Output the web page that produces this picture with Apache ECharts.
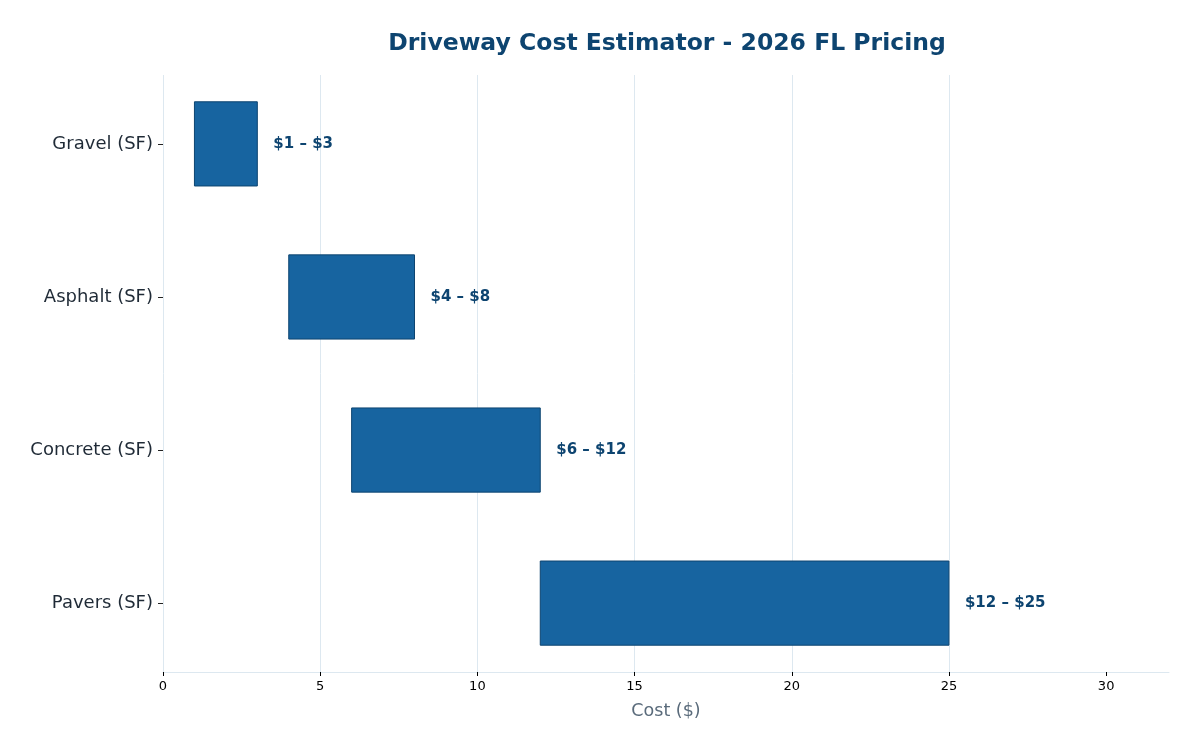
<!DOCTYPE html>
<html>
<head>
<meta charset="utf-8">
<script src="https://cdn.jsdelivr.net/npm/echarts@6/dist/echarts.min.js"></script>
<style>
  html, body { margin: 0; padding: 0; background: #fff; }
  #chart { width: 1200px; height: 750px; }
</style>
</head>
<body>
<div id="chart"></div>
<script>
// 数据
const categories = ['Gravel (SF)', 'Asphalt (SF)', 'Concrete (SF)', 'Pavers (SF)']
const lowCost = [1, 4, 6, 12]
const highCost = [3, 8, 12, 25]
const xTicks = [0, 5, 10, 15, 20, 25, 30]

const barData = categories.map((c, i) => [i, lowCost[i], highCost[i]])

const myChart = echarts.init(document.getElementById('chart'))
const font = 'DejaVu Sans'

const option = {
  backgroundColor: '#fff',
  animation: false,
  title: {
    text: 'Driveway Cost Estimator - 2026 FL Pricing',
    left: 662,
    textAlign: 'center',
    top: 27,
    textStyle: { fontFamily: font, fontSize: 23.5, fontWeight: 'bold', color: '#0d4470' }
  },
  grid: { left: 163, right: 31, top: 75, bottom: 78 },
  xAxis: {
    type: 'value',
    min: 0,
    max: 32,
    interval: 5,
    name: 'Cost ($)',
    nameLocation: 'middle',
    nameGap: 30,
    nameTextStyle: { fontFamily: font, fontSize: 17.5, color: '#5a6b7b' },
    axisLine: { show: true, onZero: false, lineStyle: { color: '#dde8f0' } },
    axisTick: { show: true, length: 4, customValues: xTicks, lineStyle: { color: '#000' } },
    axisLabel: {
      customValues: xTicks,
      fontFamily: font, fontSize: 13, color: '#000', margin: 8
    },
    splitLine: { show: true, showMaxLine: false, lineStyle: { color: '#dde8f0', width: 1 } }
  },
  yAxis: {
    type: 'value',
    inverse: true,
    min: -0.45,
    max: 3.45,
    axisLine: { show: false },
    axisTick: { show: true, customValues: [0, 1, 2, 3], length: 5, lineStyle: { color: '#222' } },
    axisLabel: {
      customValues: [0, 1, 2, 3],
      fontFamily: font, fontSize: 18, color: '#1f2a36', margin: 10,
      formatter: v => categories[Math.round(v)] || ''
    },
    splitLine: { show: false }
  },
  series: [
    {
      type: 'custom',
      data: barData,
      encode: { x: [1, 2], y: 0 },
      renderItem: (params, api) => {
        const idx = api.value(0)
        const lo = api.value(1)
        const hi = api.value(2)
        const p0 = api.coord([lo, idx - 0.275])
        const p1 = api.coord([hi, idx + 0.275])
        const mid = api.coord([hi, idx])
        return {
          type: 'group',
          children: [
            {
              type: 'rect',
              shape: { x: p0[0], y: p0[1], width: p1[0] - p0[0], height: p1[1] - p0[1] },
              style: { fill: '#1764a0', stroke: '#0d4470', lineWidth: 1 }
            },
            {
              type: 'text',
              x: mid[0] + 16,
              y: mid[1],
              style: {
                text: '$' + lo + ' \u2013 $' + hi,
                fill: '#0d4470',
                font: 'bold 15px "DejaVu Sans"',
                textAlign: 'left',
                textVerticalAlign: 'middle'
              }
            }
          ]
        }
      }
    }
  ]
}

myChart.setOption(option)
</script>
</body>
</html>
